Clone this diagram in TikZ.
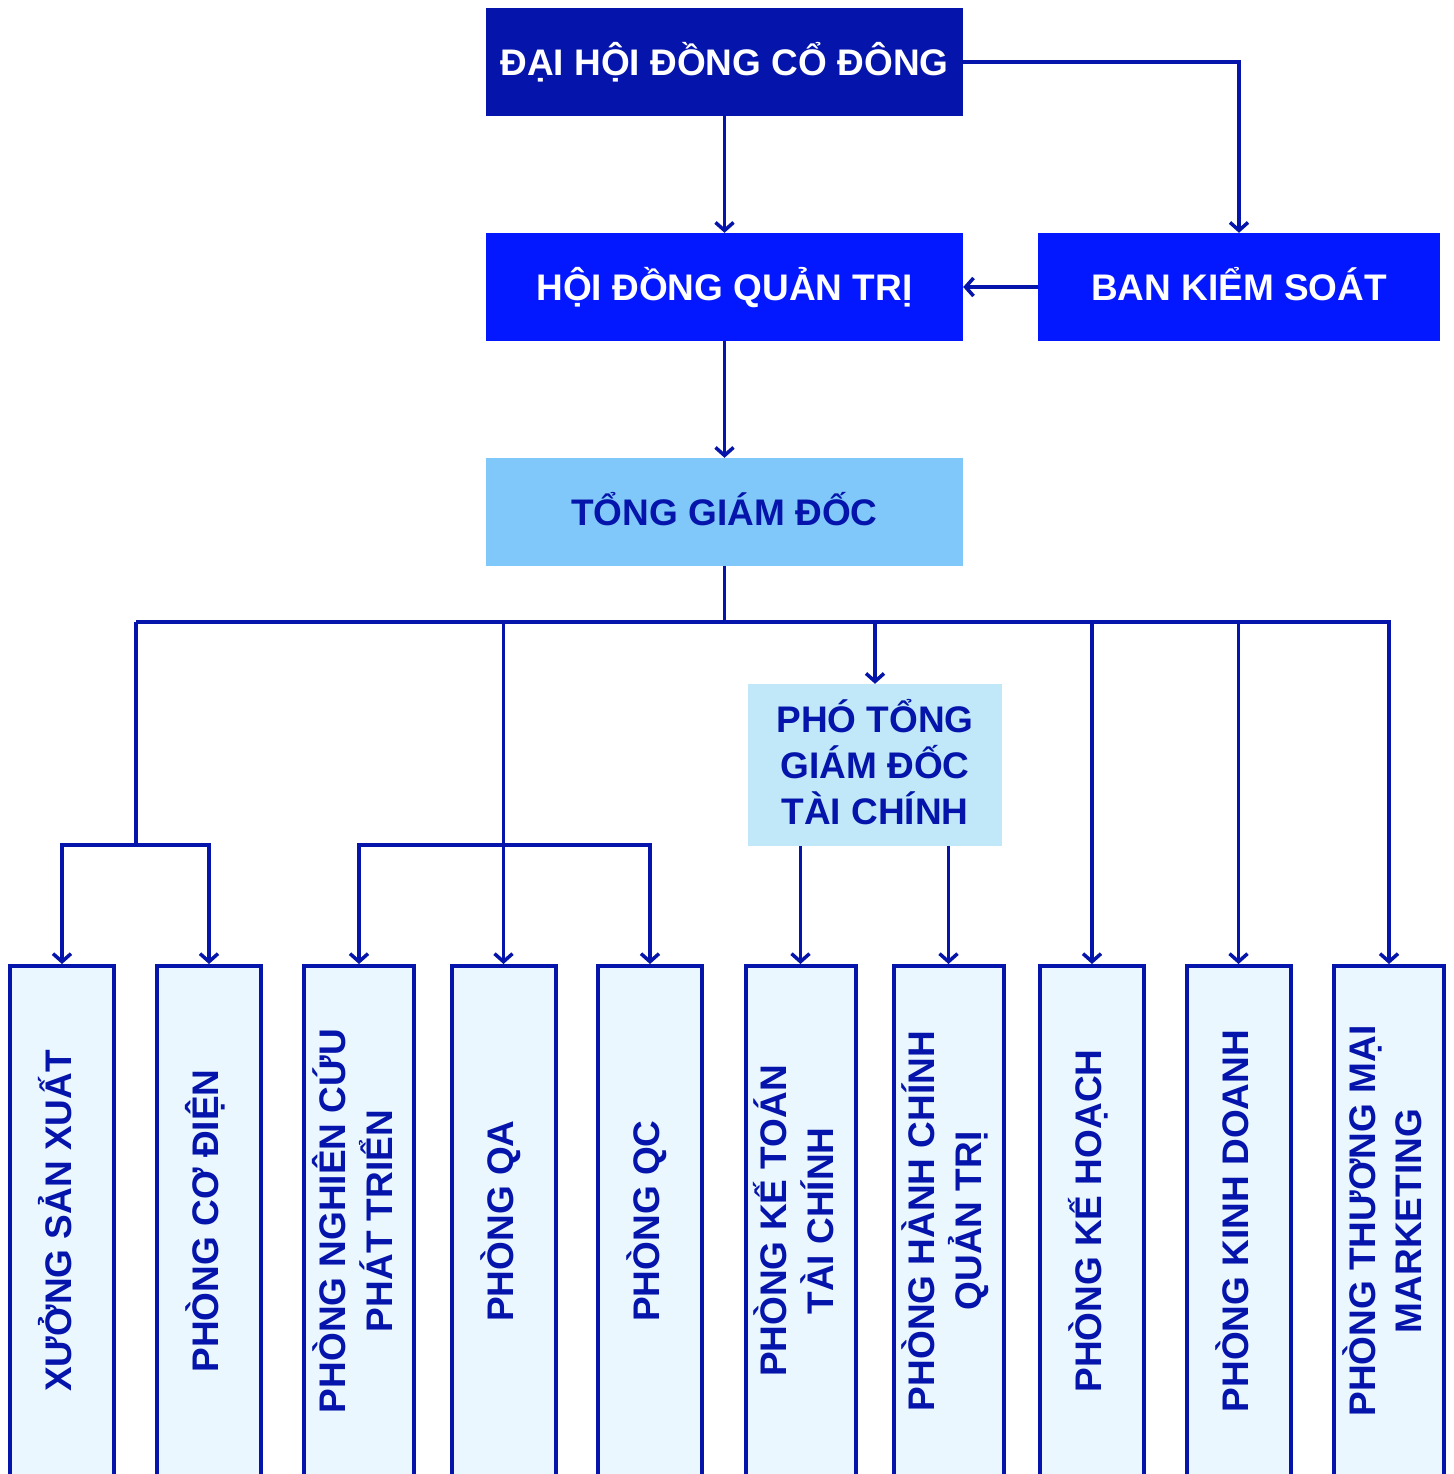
\documentclass[tikz,border=0pt]{standalone}
\usepackage{fontspec}
\setmainfont{Liberation Sans}
\usepackage{graphicx}
\usetikzlibrary{arrows.meta}
\definecolor{navy}{RGB}{5,20,170}
\definecolor{brightblue}{RGB}{4,24,255}
\definecolor{lightblue}{RGB}{128,200,250}
\definecolor{paleblue}{RGB}{192,232,248}
\definecolor{icefill}{RGB}{234,247,254}
\newcommand{\vtext}[1]{\rotatebox{90}{\begin{tabular}{@{}c@{}}#1\end{tabular}}}
\begin{document}
\begin{tikzpicture}[x=1pt,y=-1pt,
  conn/.style={draw=navy,line width=3.5pt},
  arr/.style={conn,-{Straight Barb[length=8pt,width=18pt]}},
  bigfont/.style={font=\fontsize{37}{46}\selectfont\bfseries},
  topbox/.style={rectangle,minimum width=477pt,minimum height=108pt,inner sep=0pt,bigfont,align=center,text height=27.5pt,text depth=0pt},
  deptbox/.style={rectangle,draw=navy,line width=4pt,fill=icefill,minimum height=510pt,minimum width=104pt,inner sep=0pt,text=navy,bigfont},
  widedept/.style={deptbox,minimum width=110pt}
]
\useasboundingbox (0,0) rectangle (1453,1474);
\fill[white] (0,0) rectangle (1453,1474);

% top level boxes
\node[topbox,fill=navy,text=white] (dh) at (724.5,62) {ĐẠI HỘI ĐỒNG CỔ ĐÔNG};
\node[topbox,fill=brightblue,text=white] (hd) at (724.5,287) {HỘI ĐỒNG QUẢN TRỊ};
\node[topbox,fill=brightblue,text=white,minimum width=402pt] (bks) at (1239,287) {BAN KIỂM SOÁT};
\node[topbox,fill=lightblue,text=navy] (tgd) at (724.5,512) {TỔNG GIÁM ĐỐC};
\node[rectangle,fill=paleblue,text=navy,minimum width=254pt,minimum height=162pt,inner sep=0pt,bigfont,align=center,text depth=6pt] (ptgd) at (875,765) {PHÓ TỔNG\\GIÁM ĐỐC\\TÀI CHÍNH};

% department boxes
\node[deptbox] (b1) at (62,1221) {\vtext{XƯỞNG SẢN XUẤT}};
\node[deptbox] (b2) at (209,1221) {\vtext{PHÒNG CƠ ĐIỆN}};
\node[widedept] (b3) at (359,1221) {\vtext{PHÒNG NGHIÊN CỨU\\PHÁT TRIỂN}};
\node[deptbox] (b4) at (503.5,1221) {\vtext{PHÒNG QA}};
\node[deptbox] (b5) at (650,1221) {\vtext{PHÒNG QC}};
\node[widedept] (b6) at (800.5,1221) {\vtext{PHÒNG KẾ TOÁN\\TÀI CHÍNH}};
\node[widedept] (b7) at (948.5,1221) {\vtext{PHÒNG HÀNH CHÍNH\\QUẢN TRỊ}};
\node[deptbox] (b8) at (1092,1221) {\vtext{PHÒNG KẾ HOẠCH}};
\node[deptbox] (b9) at (1238.5,1221) {\vtext{PHÒNG KINH DOANH}};
\node[widedept] (b10) at (1389,1221) {\vtext{PHÒNG THƯƠNG MẠI\\MARKETING}};

% helper coordinates
\coordinate (bus) at (724.5,622);
\coordinate (busL) at (136,622);
\coordinate (brA) at (136,845);
\coordinate (brB) at (503.5,845);

% connectors
\draw[arr] (dh.east) -| (bks.north);
\draw[arr] (dh.south) -- (hd.north);
\draw[arr] (bks.west) -- (hd.east);
\draw[arr] (hd.south) -- (tgd.north);
\draw[conn] (tgd.south) -- (bus);
\draw[arr] (busL) -- (bus) -| (b10.north);
\draw[conn] (busL) -- (brA);
\draw[arr] (brA) -| (b1.north);
\draw[arr] (brA) -| (b2.north);
\draw[arr] (b4.north |- bus) -- (b4.north);
\draw[arr] (brB) -| (b3.north);
\draw[arr] (brB) -| (b5.north);
\draw[arr] (ptgd.north |- bus) -- (ptgd.north);
\draw[arr] (ptgd.south -| b6.north) -- (b6.north);
\draw[arr] (ptgd.south -| b7.north) -- (b7.north);
\draw[arr] (b8.north |- bus) -- (b8.north);
\draw[arr] (b9.north |- bus) -- (b9.north);
\end{tikzpicture}
\end{document}
